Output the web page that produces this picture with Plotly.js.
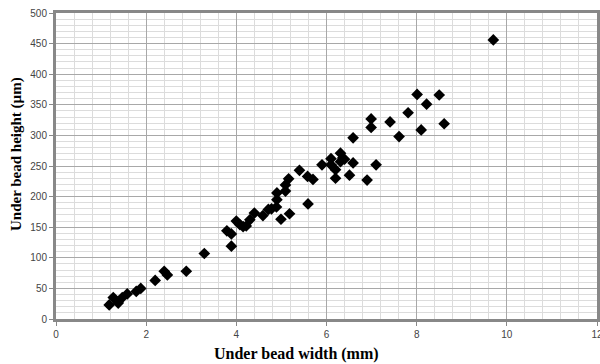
<!DOCTYPE html>
<html>
<head>
<meta charset="utf-8">
<script src="https://cdn.plot.ly/plotly-3.0.1.min.js"></script>
<style>html,body{margin:0;padding:0;background:#fff;}#chart{width:600px;height:364px;}</style>
</head>
<body>
<div id="chart"></div>
<script>
const widthMm = [1.18, 1.27, 1.38, 1.47, 1.58, 1.78, 1.88, 2.2, 2.4, 2.47, 2.89, 3.29, 3.79, 3.89, 3.89, 4.0, 4.08, 4.15, 4.22, 4.3, 4.4, 4.59, 4.71, 4.78, 4.89, 4.9, 4.9, 4.99, 5.09, 5.09, 5.16, 5.18, 5.4, 5.58, 5.59, 5.7, 5.9, 6.1, 6.1, 6.2, 6.2, 6.31, 6.36, 6.31, 6.4, 6.51, 6.59, 6.59, 6.9, 6.99, 6.99, 7.1, 7.41, 7.61, 7.81, 8.01, 8.1, 8.22, 8.5, 8.61, 9.7];
const heightUm = [23, 35, 26, 35, 41, 45, 50, 63, 78, 72, 78, 107, 144, 139, 119, 160, 154, 151, 152, 162, 173, 169, 179, 180, 183, 195, 206, 163, 219, 209, 229, 172, 243, 233, 188, 228, 252, 262, 252, 244, 230, 271, 263, 257, 261, 235, 255, 296, 227, 327, 313, 252, 322, 298, 337, 367, 309, 351, 366, 319, 456];
const xTitle = "Under bead width (mm)";
const yTitle = "Under bead height (µm)";

const trace = {
  x: widthMm, y: heightUm, type: 'scatter', mode: 'markers',
  marker: {symbol: 'diamond', size: 9, color: '#000000'},
  hoverinfo: 'x+y'
};

const axisCommon = {
  showline: true, mirror: true, linecolor: '#888888', linewidth: 3,
  gridcolor: '#a8a8a8', gridwidth: 1,
  zeroline: false,
  ticks: 'outside', ticklen: 4, tickcolor: '#888888',
  ticklabeloverflow: 'allow',
  tickfont: {family: 'Liberation Sans, Arial, sans-serif', size: 10, color: '#444444'}
};

const layout = {
  width: 600, height: 364,
  margin: {l: 56, r: 3, t: 13, b: 45},
  paper_bgcolor: '#ffffff', plot_bgcolor: '#ffffff',
  showlegend: false,
  xaxis: Object.assign({}, axisCommon, {
    range: [0, 12], tick0: 0, dtick: 2,
    minor: {dtick: 0.4, showgrid: true, gridcolor: '#dcdcdc', gridwidth: 1}
  }),
  yaxis: Object.assign({}, axisCommon, {
    range: [0, 500], tick0: 0, dtick: 50,
    minor: {dtick: 10, showgrid: true, gridcolor: '#dcdcdc', gridwidth: 1}
  }),
  annotations: [
    {text: '<b>' + xTitle + '</b>', xref: 'paper', yref: 'paper', x: 0.445, y: -0.078,
     xanchor: 'center', yanchor: 'top', showarrow: false,
     font: {family: 'Liberation Serif, Times New Roman, serif', size: 16, color: '#000'}},
    {text: '<b>' + yTitle + '</b>', xref: 'paper', yref: 'paper', x: -0.054, y: 0.54,
     xanchor: 'right', yanchor: 'middle', textangle: -90, showarrow: false,
     font: {family: 'Liberation Serif, Times New Roman, serif', size: 15, color: '#000'}}
  ]
};

Plotly.newPlot('chart', [trace], layout, {displayModeBar: false, staticPlot: true});
</script>
</body>
</html>
